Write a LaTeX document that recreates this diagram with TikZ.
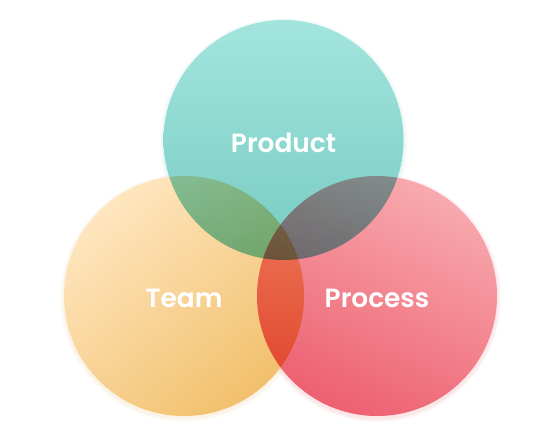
\documentclass[tikz,border=0pt]{standalone}
\usepackage{fontspec}
\setmainfont{Poppins}[UprightFont=*-Regular,BoldFont=*-SemiBold]
\definecolor{prodTop}{HTML}{A3E5DD}
\definecolor{prodBot}{HTML}{76CBC3}
\definecolor{teamA}{HTML}{FEE6BF}
\definecolor{teamB}{HTML}{F2C06C}
\definecolor{procA}{HTML}{F8AAAF}
\definecolor{procB}{HTML}{ED6070}
\tikzset{
  venn/.style={circle, minimum size=240*0.75pt, inner sep=0pt, blend mode=multiply},
  glow/.style={circle, inner sep=0pt, fill=#1, opacity=0.04},
  lbl/.style={text=white, font=\bfseries\fontsize{19.8}{22}\selectfont}
}
\begin{document}
\begin{tikzpicture}[x=0.75pt,y=-0.75pt]
\useasboundingbox (0,0) rectangle (560,436);
\fill[white] (0,0) rectangle (560,436);
% soft glows
\foreach \d in {2,4,6,8} {
  \node[glow=teamB, minimum size=(240+\d)*0.75pt] at (184,298) {};
  \node[glow=procB, minimum size=(240+\d)*0.75pt] at (377,298) {};
  \node[glow=prodBot, minimum size=(240+\d)*0.75pt] at (283.5,142) {};
}
\begin{scope}[transparency group]
  \node[venn, top color=prodTop, bottom color=prodBot] (product) at (283.5,140) {};
  \node[venn, top color=teamA, bottom color=teamB, shading angle=40] (team) at (184,296) {};
  \node[venn, top color=procA, bottom color=procB, shading angle=-25] (process) at (377,296) {};
\end{scope}
\node[lbl] (lproduct) at (product.center) [yshift=-2pt] {Product};
\node[lbl] (lteam) at (team.center) [yshift=-2pt] {Team};
\node[lbl] (lprocess) at (process.center) [yshift=-2pt] {Process};
\end{tikzpicture}
\end{document}
